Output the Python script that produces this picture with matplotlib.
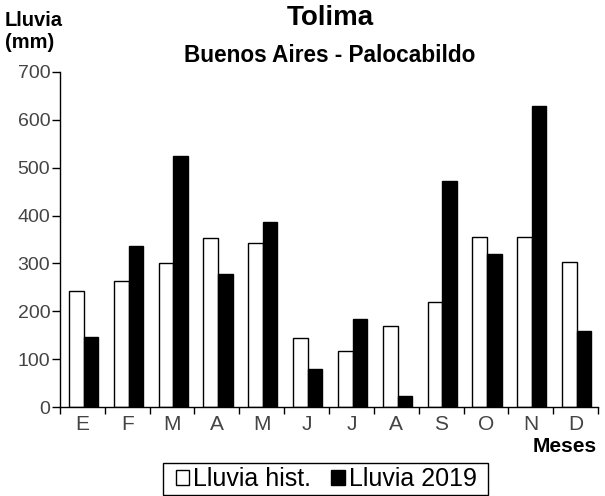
import numpy as np
import matplotlib
matplotlib.use("Agg")
import matplotlib.pyplot as plt
from matplotlib.patches import Patch, Rectangle

plt.rcParams['font.family'] = ['Liberation Sans', 'DejaVu Sans']

meses = ['E', 'F', 'M', 'A', 'M', 'J', 'J', 'A', 'S', 'O', 'N', 'D']
lluvia_hist = [242, 263, 301, 354, 342, 145, 116, 169, 219, 355, 355, 304]
lluvia_2019 = [146, 337, 525, 278, 387, 79, 184, 24, 472, 319, 628, 159]

W, H = 605, 496
fig = plt.figure(figsize=(W / 100, H / 100), dpi=100)
ax = fig.add_axes([60 / W, (H - 407) / H, (598 - 60) / W, (407 - 72) / H])

x = np.arange(len(meses))
ax.bar(x - 0.30, lluvia_hist, width=0.33, align='edge', color='white',
       edgecolor='black', linewidth=1.0)
ax.bar(x + 0.03, lluvia_2019, width=0.32, align='edge', color='black',
       edgecolor='black', linewidth=1.0)

ax.set_xlim(-0.5, len(meses) - 0.5)
ax.set_ylim(0, 700)
ax.set_yticks(range(0, 701, 100))
ax.set_xticks(x)
ax.set_xticklabels(meses)
ax.set_xticks(np.arange(-0.5, len(meses)), minor=True)
ax.tick_params(axis='x', which='major', length=0, pad=6, labelsize=15, labelcolor='#444444')
ax.tick_params(axis='x', which='minor', length=5, width=1.0, direction='out')
ax.tick_params(axis='y', length=6, width=1.0, direction='out', pad=1,
               labelsize=14, labelcolor='#444444')

for s in ['top', 'right']:
    ax.spines[s].set_visible(False)
for s in ['left', 'bottom']:
    ax.spines[s].set_linewidth(1.0)

fig.text(5 / W, 1 - 11 / H, 'Lluvia\n(mm)', ha='left', va='top',
         fontsize=14.5, fontweight='bold', linespacing=1.2)
fig.text(330 / W, 1 - 18 / H, 'Tolima', ha='center', va='center',
         fontsize=20, fontweight='bold')
fig.text(330 / W, 1 - 56 / H, 'Buenos Aires - Palocabildo', ha='center',
         va='center', fontsize=16.3, fontweight='bold')
fig.text(597 / W, 1 - 446 / H, 'Meses', ha='right', va='center',
         fontsize=15, fontweight='bold')

# legend frame drawn separately (wider side padding than the legend allows)
fig.add_artist(Rectangle((163 / W, 1 - 495 / H), (488 - 163) / W, 32 / H,
                         transform=fig.transFigure, facecolor='white',
                         edgecolor='black', linewidth=1.0))
handles = [Patch(facecolor='white', edgecolor='black', linewidth=1.0),
           Patch(facecolor='black', edgecolor='black', linewidth=1.0)]
leg = fig.legend(handles, ['Lluvia hist.', 'Lluvia 2019'], loc='center',
                 bbox_to_anchor=(326 / W, 1 - 479 / H), ncol=2, fontsize=18,
                 frameon=False, handlelength=0.55, handleheight=0.55,
                 handletextpad=0.15, columnspacing=0.8,
                 borderpad=0.1, borderaxespad=0)

fig.savefig('out.png', dpi=100)
